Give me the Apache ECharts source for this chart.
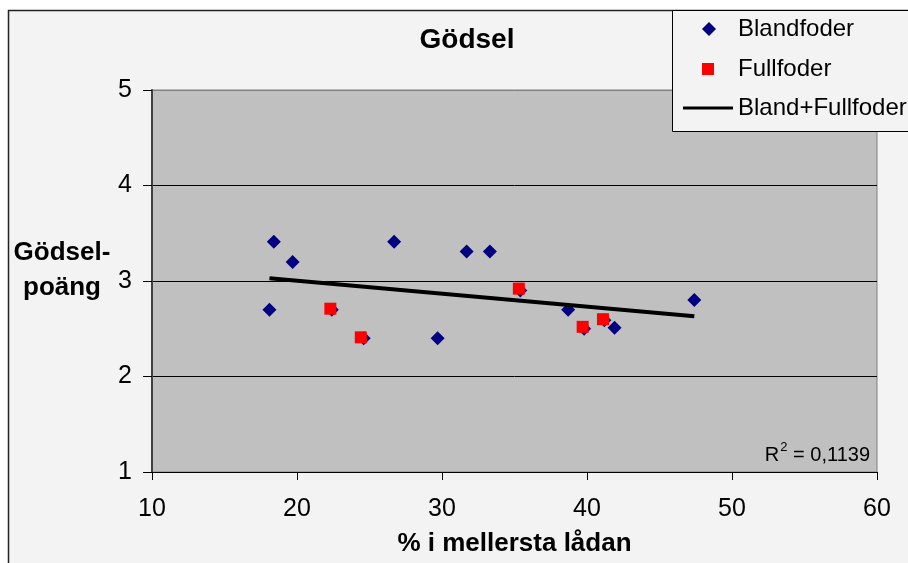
<!DOCTYPE html>
<html>
<head>
<meta charset="utf-8">
<script src="https://cdn.jsdelivr.net/npm/echarts@6/dist/echarts.min.js"></script>
<style>
  html, body { margin: 0; padding: 0; background: #ffffff; }
  #chart { width: 908px; height: 563px; }
</style>
</head>
<body>
<div id="chart"></div>
<script>
// ---- data ----
const titleText = 'Gödsel';
const xAxisName = '% i mellersta lådan';
const yAxisName = 'Gödsel-\npoäng';
const xTicks = [10, 20, 30, 40, 50, 60];
const yTicks = [1, 2, 3, 4, 5];
const seriesNames = ['Blandfoder', 'Fullfoder', 'Bland+Fullfoder'];
const blandfoder = [
  [18.4, 3.41], [19.7, 3.2], [18.1, 2.7], [22.4, 2.7], [24.6, 2.4],
  [26.7, 3.41], [29.7, 2.4], [31.7, 3.31], [33.3, 3.31], [35.4, 2.9],
  [38.7, 2.7], [39.8, 2.5], [41.2, 2.59], [41.9, 2.51], [47.4, 2.8]
];
const fullfoder = [
  [22.3, 2.71], [24.4, 2.41], [35.3, 2.92], [39.7, 2.52], [41.1, 2.6]
];
const trendLine = [[18.1, 3.03], [47.4, 2.63]];
const rSquaredText = '0,1139';

const FONT = '"Liberation Sans", Arial, sans-serif';
const chart = echarts.init(document.getElementById('chart'), null, { renderer: 'canvas' });

const legendText = { fontFamily: FONT, fontSize: 24, color: '#000' };

const option = {
  animation: false,
  backgroundColor: '#ffffff',
  textStyle: { fontFamily: FONT, color: '#000' },
  graphic: [
    {
      type: 'rect', z: -10, silent: true,
      shape: { x: 8.5, y: 10.5, width: 1000, height: 1000 },
      style: { fill: '#f3f3f3', stroke: '#222', lineWidth: 1.5 }
    },
    {
      type: 'rect', z: 1, silent: true,
      shape: { x: 672.5, y: 10.5, width: 400, height: 121 },
      style: { fill: '#f3f3f3', stroke: '#000', lineWidth: 1 }
    }
  ],
  title: [
    {
      text: titleText,
      left: 462, top: 21, textAlign: 'center',
      textStyle: { fontFamily: FONT, fontSize: 28, fontWeight: 'bold', color: '#000' }
    },
    {
      text: '{r|R}{s|2}{r| = ' + rSquaredText + '}',
      right: 33, top: 436,
      textStyle: {
        fontWeight: 'normal',
        rich: {
          r: { fontFamily: FONT, fontSize: 20, fontWeight: 'normal', color: '#000', lineHeight: 24, verticalAlign: 'bottom' },
          s: { fontFamily: FONT, fontSize: 13, fontWeight: 'normal', color: '#000', lineHeight: 24, verticalAlign: 'top', padding: [0, 0, 0, 1] }
        }
      }
    },
    {
      // y-axis title
      text: yAxisName,
      left: 62, top: 235, textAlign: 'center', padding: 0,
      textStyle: { fontFamily: FONT, fontSize: 26, fontWeight: 'bold', color: '#000', lineHeight: 35 }
    }
  ],
  legend: [
    {
      orient: 'vertical', left: 702, top: 17, padding: 0,
      itemWidth: 14, itemHeight: 14, z: 5,
      textStyle: Object.assign({ padding: [0, 0, 0, 17] }, legendText),
      data: [{ name: seriesNames[0], icon: 'diamond', itemStyle: { color: '#000080', opacity: 1 } }]
    },
    {
      orient: 'vertical', left: 702, top: 57, padding: 0,
      itemWidth: 12, itemHeight: 12, z: 5,
      textStyle: Object.assign({ padding: [0, 0, 0, 19] }, legendText),
      data: [{ name: seriesNames[1], icon: 'rect', itemStyle: { color: '#ff0000', opacity: 1 } }]
    },
    {
      orient: 'vertical', left: 683, top: 96, padding: 0,
      itemWidth: 50, itemHeight: 3, z: 5,
      textStyle: legendText,
      data: [{ name: seriesNames[2], icon: 'rect', itemStyle: { color: '#000' } }]
    }
  ],
  grid: {
    left: 152, top: 90, right: 31, bottom: 91,
    show: true, backgroundColor: '#c0c0c0', borderColor: '#808080', borderWidth: 1
  },
  xAxis: {
    type: 'value',
    min: xTicks[0], max: xTicks[xTicks.length - 1], interval: 10,
    name: xAxisName, nameLocation: 'middle', nameGap: 59,
    nameTextStyle: { fontFamily: FONT, fontSize: 26, fontWeight: 'bold', color: '#000' },
    axisLine: { show: true, lineStyle: { color: '#000', width: 1 } },
    axisTick: { show: true, inside: false, length: 8, lineStyle: { color: '#000' } },
    splitLine: { show: false },
    axisLabel: { fontFamily: FONT, fontSize: 25, color: '#000', margin: 25 }
  },
  yAxis: {
    type: 'value',
    min: yTicks[0], max: yTicks[yTicks.length - 1], interval: 1,
    axisLine: { show: true, lineStyle: { color: '#404040', width: 2 } },
    axisTick: { show: true, inside: false, length: 9, lineStyle: { color: '#000' } },
    splitLine: { show: true, lineStyle: { color: ['#000', '#000', '#000', '#000', '#808080'], width: 1 } },
    axisLabel: { fontFamily: FONT, fontSize: 25, color: '#000', margin: 20 }
  },
  series: [
    {
      name: seriesNames[0], type: 'scatter', symbol: 'diamond', symbolSize: 14,
      itemStyle: { color: '#000080', opacity: 1 }, data: blandfoder, z: 3
    },
    {
      name: seriesNames[1], type: 'scatter', symbol: 'rect', symbolSize: 12,
      itemStyle: { color: '#ff0000', opacity: 1 }, data: fullfoder, z: 4
    },
    {
      name: seriesNames[2], type: 'line', symbol: 'none', showSymbol: false,
      lineStyle: { color: '#000', width: 4 }, itemStyle: { color: '#000' },
      data: trendLine, z: 5
    }
  ]
};
chart.setOption(option);
</script>
</body>
</html>
